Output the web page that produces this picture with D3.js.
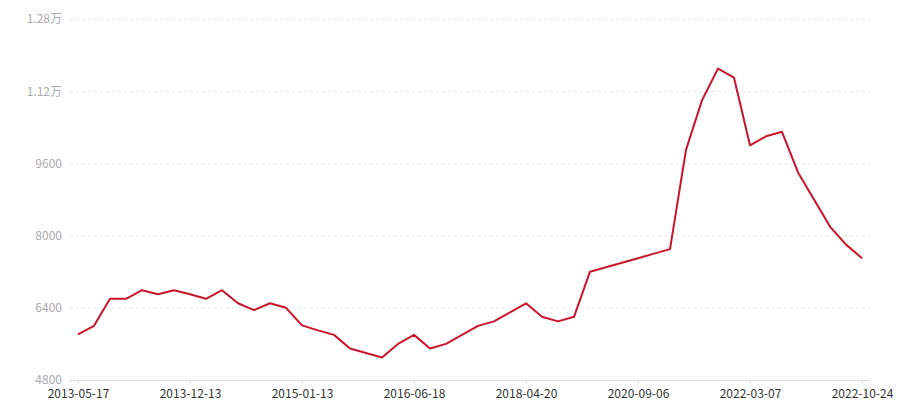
<!DOCTYPE html>
<html>
<head>
  <meta charset="utf-8">
  <script src="https://cdn.jsdelivr.net/npm/d3@7"></script>
  <style>
    body { margin: 0; background: #fff; }
    svg text { font-family: "Noto Sans CJK SC", "Open Sans", sans-serif; }
  </style>
</head>
<body>
<script>
  // series values, one per period (evenly spaced on the category axis)
  var values = [
    5810, 6000, 6600, 6600, 6790, 6700, 6790, 6700, 6600, 6790,
    6500, 6350, 6500, 6400, 6010, 5900, 5800, 5500, 5400, 5300,
    5600, 5800, 5500, 5600, 5800, 6000, 6100, 6300, 6500, 6200,
    6100, 6200, 7200, 7300, 7400, 7500, 7600, 7700, 9900, 11000,
    11700, 11500, 10000, 10200, 10300, 9400, 8800, 8200, 7800, 7500
  ];
  // labels shown every 7th period
  var tickLabels = ["2013-05-17", "2013-12-13", "2015-01-13", "2016-06-18",
                    "2018-04-20", "2020-09-06", "2022-03-07", "2022-10-24"];
  var yTicks = [4800, 6400, 8000, 9600, 11200, 12800];

  var width = 900, height = 400;
  var plotLeft = 78, plotRight = 862, plotTop = 19, plotBottom = 380;

  var svg = d3.select("body").append("svg")
    .attr("width", width)
    .attr("height", height);

  var x = d3.scalePoint()
    .domain(d3.range(values.length))
    .range([plotLeft, plotRight]);

  var y = d3.scaleLinear()
    .domain([4800, 12800])
    .range([plotBottom, plotTop]);

  function fmt(v) {
    return v >= 10000 ? (v / 10000) + "万" : String(v);
  }

  // gridlines + y labels
  var yAxis = svg.append("g")
    .attr("transform", "translate(70,0)")
    .call(d3.axisLeft(y).tickValues(yTicks).tickFormat(fmt).tickSize(0).tickPadding(8));
  yAxis.select(".domain").remove();
  yAxis.selectAll("text")
    .style("font-size", "12px")
    .attr("fill", "#aaa");
  yAxis.selectAll(".tick")
    .filter(function(d) { return d !== 4800; })
    .append("line")
    .attr("x1", 0)
    .attr("x2", 800)
    .attr("stroke", "#ebebeb")
    .attr("stroke-dasharray", "3,3");

  // x axis
  var xIdx = d3.range(0, values.length, 7);
  var xAxis = svg.append("g")
    .attr("transform", "translate(0," + plotBottom + ")")
    .call(d3.axisBottom(x)
      .tickValues(xIdx)
      .tickFormat(function(d, i) { return tickLabels[i]; })
      .tickSize(4)
      .tickSizeOuter(0)
      .tickPadding(5));
  xAxis.select(".domain")
    .attr("d", "M70,0.5H870")
    .attr("stroke", "#ddd");
  xAxis.selectAll(".tick line").attr("stroke", "#ddd");
  xAxis.selectAll("text")
    .style("font-size", "12px")
    .attr("fill", "#333");

  // line
  var line = d3.line()
    .x(function(d, i) { return x(i); })
    .y(function(d) { return y(d); });

  svg.append("path")
    .datum(values)
    .attr("d", line)
    .attr("fill", "none")
    .attr("stroke", "#c8142c")
    .attr("stroke-width", 2)
    .attr("stroke-linejoin", "round");
</script>
</body>
</html>
